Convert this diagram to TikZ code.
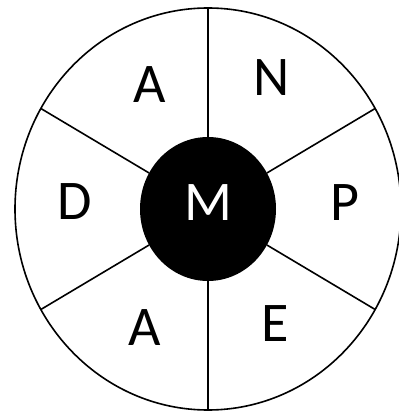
\documentclass[tikz,border=0pt]{standalone}
\usepackage{fontspec}
\setmainfont{Carlito}

\begin{document}
\begin{tikzpicture}[x=1pt,y=1pt,
	rim/.style={ line width=1.6pt },
	letter/.style={ inner sep=0pt, font=\fontsize{56}{60}\selectfont },
	hubletter/.style={ letter, text=white }
]
\useasboundingbox (-208,-205) rectangle (190,209);

\draw[rim] (0,0) ellipse (193 and 201);
\fill (0,0) ellipse (68 and 72);
\foreach \a in {30,90,150,210,270,330}
	\draw[rim] (\a:68 and 72) -- (\a:193 and 201);

\node at (-58,124) (a1) [letter] {A};
\node at (64,131) (n) [letter] {N};
\node at (-133,7) (d) [letter] {D};
\node at (0,6) (m) [hubletter] {M};
\node at (137,6) (p) [letter] {P};
\node at (-63,-119) (a2) [letter] {A};
\node at (67,-115) (e) [letter] {E};

\end{tikzpicture}
\end{document}
